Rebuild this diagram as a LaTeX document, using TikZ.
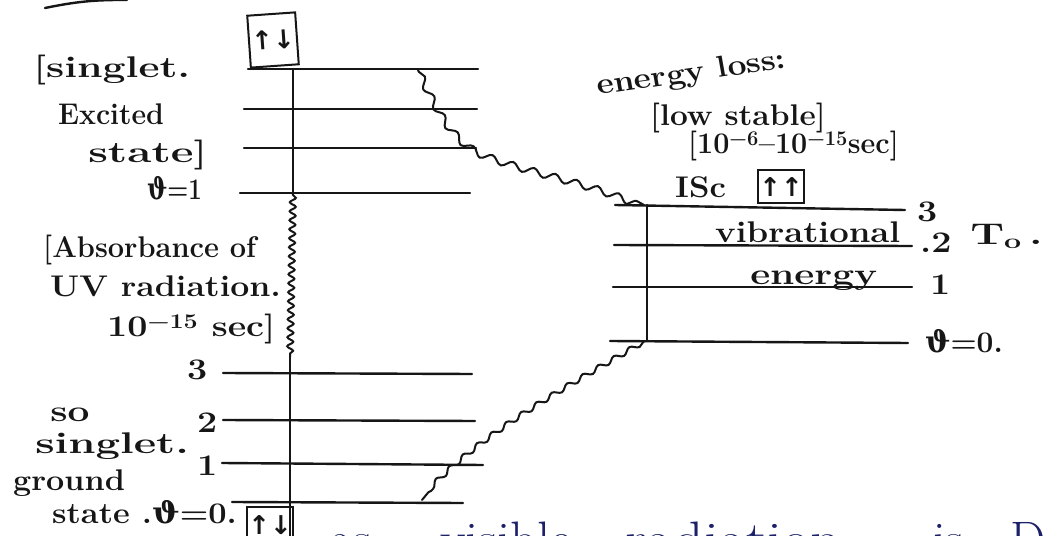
\documentclass[tikz,border=0pt]{standalone}
\usepackage{fontspec}
\newfontfamily\gk{DejaVu Serif}
\newfontfamily\arr{DejaVu Sans}
\usetikzlibrary{decorations.pathmorphing}
\definecolor{ink}{RGB}{22,22,22}
\definecolor{blueink}{RGB}{28,32,105}
\newcommand{\vth}{{\gk\bfseries ϑ}}
\begin{document}
\begin{tikzpicture}[x=1bp,y=-1bp,
  lvl/.style={line width=2.4bp, draw=ink, line cap=round},
  wavy/.style 2 args={line width=2bp, draw=ink, line cap=round, decorate,
     decoration={snake, amplitude=#1, segment length=#2, pre length=2bp, post length=2bp}},
  hw/.style={font=\fontsize{30}{34}\selectfont\bfseries, text=ink, inner sep=0pt, anchor=base west},
  blue/.style={font=\fontsize{50}{56}\selectfont, text=blueink, inner sep=0pt, anchor=base west},
  spinbox/.style={draw=ink, line width=2bp, inner sep=1bp, minimum width=#1, minimum height=32bp,
     font=\fontsize{26}{28}\selectfont\arr\bfseries, text=ink},
]
\useasboundingbox (0,0) rectangle (1045,536);
\fill[white] (0,0) rectangle (1045,536);

% top-left stroke
\coordinate (tl1) at (45,8);
\coordinate (tl2) at (127,0);
\draw[lvl] (tl1) to[bend left=6] (tl2);

% ---------- S1 levels ----------
\coordinate (s1a-l) at (248,69);  \coordinate (s1a-r) at (478,69);
\coordinate (s1b-l) at (244,109); \coordinate (s1b-r) at (477,109);
\coordinate (s1c-l) at (244,148); \coordinate (s1c-r) at (476,148);
\coordinate (s1d-l) at (240,193); \coordinate (s1d-r) at (470,193);
\draw[lvl] (s1a-l) -- (s1a-r);
\draw[lvl] (s1b-l) -- (s1b-r);
\draw[lvl] (s1c-l) -- (s1c-r);
\draw[lvl] (s1d-l) -- (s1d-r);
\coordinate (v1t) at (293,69);
\coordinate (v1b) at (293,193);
\draw[lvl] (v1t) -- (v1b);

% ---------- S0 levels ----------
\coordinate (s0a-l) at (223,373); \coordinate (s0a-r) at (472,374);
\coordinate (s0b-l) at (223,420); \coordinate (s0b-r) at (475,421);
\coordinate (s0c-l) at (222,463); \coordinate (s0c-r) at (483,465);
\coordinate (s0d-l) at (232,502); \coordinate (s0d-r) at (463,503);
\draw[lvl] (s0a-l) -- (s0a-r);
\draw[lvl] (s0b-l) -- (s0b-r);
\draw[lvl] (s0c-l) -- (s0c-r);
\draw[lvl] (s0d-l) -- (s0d-r);
\coordinate (v0t) at (290,357);
\coordinate (v0b) at (290,540);
\draw[lvl] (v0t) -- (v0b);

% ---------- T levels ----------
\coordinate (ta-l) at (615,205); \coordinate (ta-r) at (905,210);
\coordinate (tb-l) at (614,245); \coordinate (tb-r) at (912,246);
\coordinate (tc-l) at (613,287); \coordinate (tc-r) at (912,287);
\coordinate (td-l) at (610,341); \coordinate (td-r) at (908,343);
\draw[lvl] (ta-l) -- (ta-r);
\draw[lvl] (tb-l) -- (tb-r);
\draw[lvl] (tc-l) -- (tc-r);
\draw[lvl] (td-l) -- (td-r);
\coordinate (vtt) at (647,205);
\coordinate (vtb) at (647,341);
\draw[lvl] (vtt) -- (vtb);

% ---------- wavy transitions ----------
\coordinate (w1s) at (418,70);
\coordinate (w1m) at (480,150);
\coordinate (w1e) at (644,205);
\draw[wavy={3.5bp}{22bp}] (w1s) .. controls (432,100) and (448,136) .. (w1m)
      .. controls (530,170) and (600,180) .. (w1e);
\draw[wavy={3bp}{9bp}] (v1b) -- (v0t);
\coordinate (w3s) at (645,341);
\coordinate (w3e) at (422,500);
\draw[wavy={2.5bp}{18bp}] (w3s) .. controls (560,390) and (470,440) .. (w3e);

% ---------- spin boxes ----------
\node[spinbox=48bp, minimum height=52bp, rotate=4] (b1) at (273,40) {↑↓};
\node[spinbox=38bp, minimum height=33bp] (b2) at (781,187) {↑↑};
\node[spinbox=40bp, minimum height=36bp] (b3) at (270,525) {↑↓};

% ---------- left labels ----------
\node[hw, xscale=1.37] (t1) at (33,78) {[singlet.};
\node[hw, xscale=0.95] (t2) at (58,125) {Excited};
\node[hw, xscale=1.48] (t3) at (88,163) {state]};
\node[hw, xscale=0.8] (t4) at (147,200) {\vth=1};
\node[hw, xscale=0.97] (t5) at (43,258) {[Absorbance of};
\node[hw, xscale=1.13] (t6) at (50,297) {UV radiation.};
\node[hw, xscale=1.2] (t7) at (107,337) {10\textsuperscript{−15} sec]};
\node[hw, xscale=1.2] (n3) at (187,380) {3};
\node[hw, xscale=1.2] (n2) at (197,432) {2};
\node[hw, xscale=1.2] (n1) at (197,475) {1};
\node[hw, xscale=1.3] (t8) at (50,421) {so};
\node[hw, xscale=1.46] (t9) at (35,453) {singlet.};
\node[hw, xscale=1.08] (t10) at (13,490) {ground};
\node[hw, xscale=1.09] (t11) at (52,523) {state .\vth=0.};

% ---------- right labels ----------
\node[hw, xscale=1.12, rotate=9] (r1) at (598,95) {energy loss:};
\node[hw, xscale=1.06] (r2) at (650,126) {[low stable]};
\node[hw, xscale=0.96] (r3) at (688,154) {[10\textsuperscript{−6}–10\textsuperscript{−15}sec]};
\node[hw, xscale=1.1] (r4) at (675,198) {ISc};
\node[hw, xscale=1.16] (r5) at (715,243) {vibrational};
\node[hw, xscale=1.3] (r6) at (750,285) {energy};
\node[hw, xscale=1.2] (m3) at (917,222) {3};
\node[hw, xscale=1.2] (m2) at (920,253) {.2};
\node[hw, xscale=1.2] (m1) at (930,295) {1};
\node[hw, xscale=1.0] (m0) at (925,353) {\vth=0.};
\node[hw, xscale=1.45] (T0) at (970,245) {T\textsubscript{o}\,.};

% ---------- bottom blue text (cut by the page edge) ----------
\node[blue] (u1) at (330,556) {as};
\node[blue, xscale=1.05] (u2) at (440,556) {visible};
\node[blue, xscale=1.2] (u3) at (625,556) {radiation};
\node[blue] (u4) at (933,556) {is};
\node[blue] (u5) at (1010,556) {D};
\end{tikzpicture}
\end{document}
